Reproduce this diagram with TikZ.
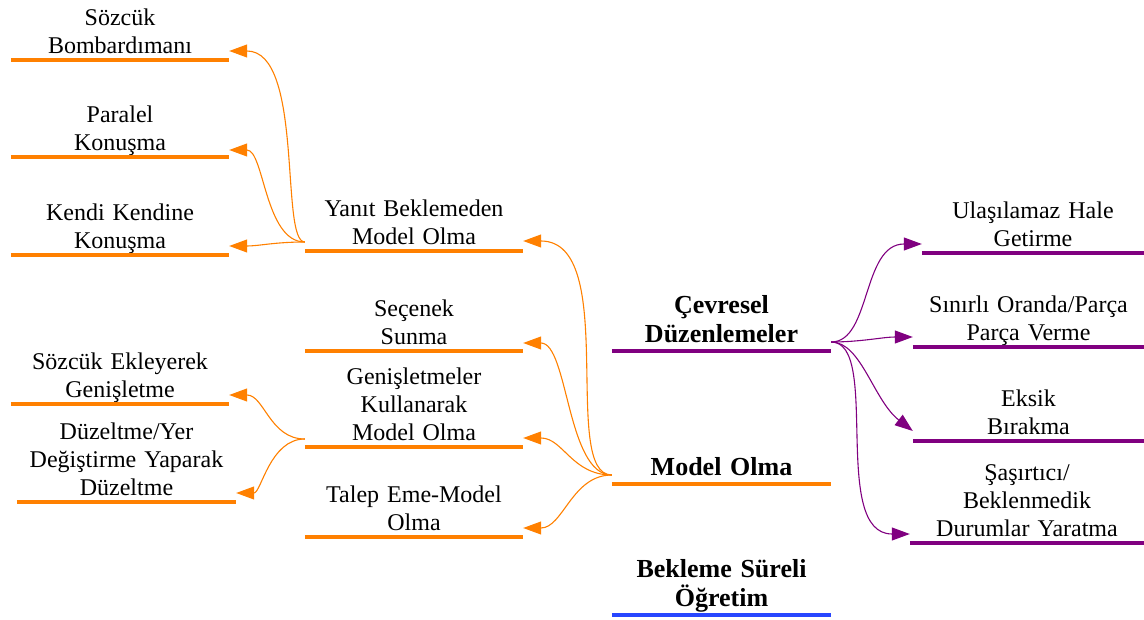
\documentclass[tikz,border=0pt]{standalone}
\usepackage{fontspec}
\setmainfont{Liberation Serif}
\usetikzlibrary{arrows.meta}
\definecolor{branchorange}{RGB}{255,128,0}
\definecolor{branchpurple}{RGB}{128,0,128}
\definecolor{branchblue}{RGB}{40,70,255}
% fixed depth below the last text line, so every label sits the same height above its bar
\newcommand\lowstrut{\rule[-6.5pt]{0pt}{6.5pt}}
\newcommand\boldstrut{\rule[-8pt]{0pt}{8pt}}

\begin{document}
\begin{tikzpicture}[x=1pt,y=1pt,
  topic/.style={anchor=south, align=center, inner sep=0pt, text width=#1,
    font=\fontsize{24}{28}\selectfont},
  topic/.default=218pt,
  main/.style={anchor=south, align=center, inner sep=0pt, text width=219pt,
    font=\fontsize{26}{29.5}\selectfont\bfseries},
  bar/.style={line width=3.2pt},
  link/.style={line width=1.1pt, -{Triangle[length=18pt,width=13pt]}},
]
\useasboundingbox (0,0) rectangle (1144,-620);

% ---------- central topics ----------
\node[main] (cd) at (721.5,-351) {Çevresel\\Düzenlemeler\boldstrut};
\node[main] (mo) at (721.5,-484) {Model Olma\boldstrut};
\node[main] (bs) at (721.5,-615) {Bekleme Süreli\\Öğretim\boldstrut};
\draw[bar, branchpurple] (cd.south west) -- (cd.south east);
\draw[bar, branchorange] (mo.south west) -- (mo.south east);
\draw[bar, branchblue]   (bs.south west) -- (bs.south east);

% ---------- modelling branch ----------
\node[topic] (ym) at (414,-251) {Yanıt Beklemeden\\Model Olma\lowstrut};
\node[topic] (ss) at (414,-351) {Seçenek\\Sunma\lowstrut};
\node[topic] (gk) at (414,-447) {Genişletmeler\\Kullanarak\\Model Olma\lowstrut};
\node[topic] (te) at (414,-537) {Talep Eme-Model\\Olma\lowstrut};

\node[topic] (sb) at (120,-60)  {Sözcük\\Bombardımanı\lowstrut};
\node[topic] (pk) at (120,-157) {Paralel\\Konuşma\lowstrut};
\node[topic] (kk) at (120,-255) {Kendi Kendine\\Konuşma\lowstrut};
\node[topic] (se) at (120,-404) {Sözcük Ekleyerek\\Genişletme\lowstrut};
\node[topic=219pt] (dz) at (126.5,-502) {Düzeltme/Yer\\Değiştirme Yaparak\\Düzeltme\lowstrut};

\foreach \n in {ym,ss,gk,te,sb,pk,kk,se,dz}
  \draw[bar, branchorange] (\n.south west) -- (\n.south east);

% ---------- environment branch ----------
\node[topic=222pt] (ul) at (1033,-253)   {Ulaşılamaz Hale\\Getirme\lowstrut};
\node[topic=231pt] (sp) at (1028.5,-347) {Sınırlı Oranda/Parça\\Parça Verme\lowstrut};
\node[topic=231pt] (eb) at (1028.5,-441) {Eksik\\Bırakma\lowstrut};
\node[topic=234pt] (sw) at (1027,-543)   {Şaşırtıcı/\\Beklenmedik\\Durumlar Yaratma\lowstrut};

\foreach \n in {ul,sp,eb,sw}
  \draw[bar, branchpurple] (\n.south west) -- (\n.south east);

% ---------- connector ends ----------
\coordinate (moL) at ([yshift=9pt]mo.south west);
\coordinate (ymL) at ([yshift=9pt]ym.south west);
\coordinate (gkL) at ([yshift=8pt]gk.south west);
\coordinate (cdR) at ([yshift=9pt]cd.south east);

\coordinate (ymR) at ([yshift=10pt]ym.south east);
\coordinate (ssR) at ([yshift=8pt]ss.south east);
\coordinate (gkR) at ([yshift=9pt]gk.south east);
\coordinate (teR) at ([yshift=9pt]te.south east);

\coordinate (sbR) at ([yshift=9pt]sb.south east);
\coordinate (pkR) at ([yshift=7pt]pk.south east);
\coordinate (kkR) at ([yshift=9pt]kk.south east);
\coordinate (seR) at ([yshift=9pt]se.south east);
\coordinate (dzR) at ([yshift=9pt]dz.south east);

\coordinate (ulL) at ([yshift=9pt]ul.south west);
\coordinate (spL) at ([yshift=10pt]sp.south west);
\coordinate (ebL) at ([yshift=10pt]eb.south west);
\coordinate (swL) at ([yshift=9pt]sw.south west);

% ---------- connectors ----------
\begin{scope}[branchorange]
  \draw[link] (moL) to[out=180,in=0,out distance=52pt,in distance=97pt] (ymR);
  \draw[link] (moL) to[out=180,in=0,out distance=45pt,in distance=45pt] (ssR);
  \draw[link] (moL) to[out=180,in=0,out distance=40pt,in distance=40pt] (gkR);
  \draw[link] (moL) to[out=180,in=0,out distance=40pt,in distance=40pt] (teR);

  \draw[link] (ymL) to[out=180,in=0,out distance=25pt,in distance=75pt] (sbR);
  \draw[link] (ymL) to[out=180,in=0,out distance=40pt,in distance=35pt] (pkR);
  \draw[link] (ymL) to[out=180,in=0,out distance=30pt,in distance=30pt] (kkR);

  \draw[link] (gkL) to[out=180,in=0,out distance=35pt,in distance=35pt] (seR);
  \draw[link] (gkL) to[out=180,in=0,out distance=35pt,in distance=25pt] (dzR);
\end{scope}

\begin{scope}[branchpurple]
  \draw[link] (cdR) to[out=0,in=180,out distance=40pt,in distance=60pt] (ulL);
  \draw[link] (cdR) to[out=0,in=180,out distance=30pt,in distance=30pt] (spL);
  \draw[link] (cdR) to[out=0,in=142,out distance=30pt,in distance=50pt] (ebL);
  \draw[link] (cdR) to[out=0,in=180,out distance=50pt,in distance=80pt] (swL);
\end{scope}
\end{tikzpicture}
\end{document}
